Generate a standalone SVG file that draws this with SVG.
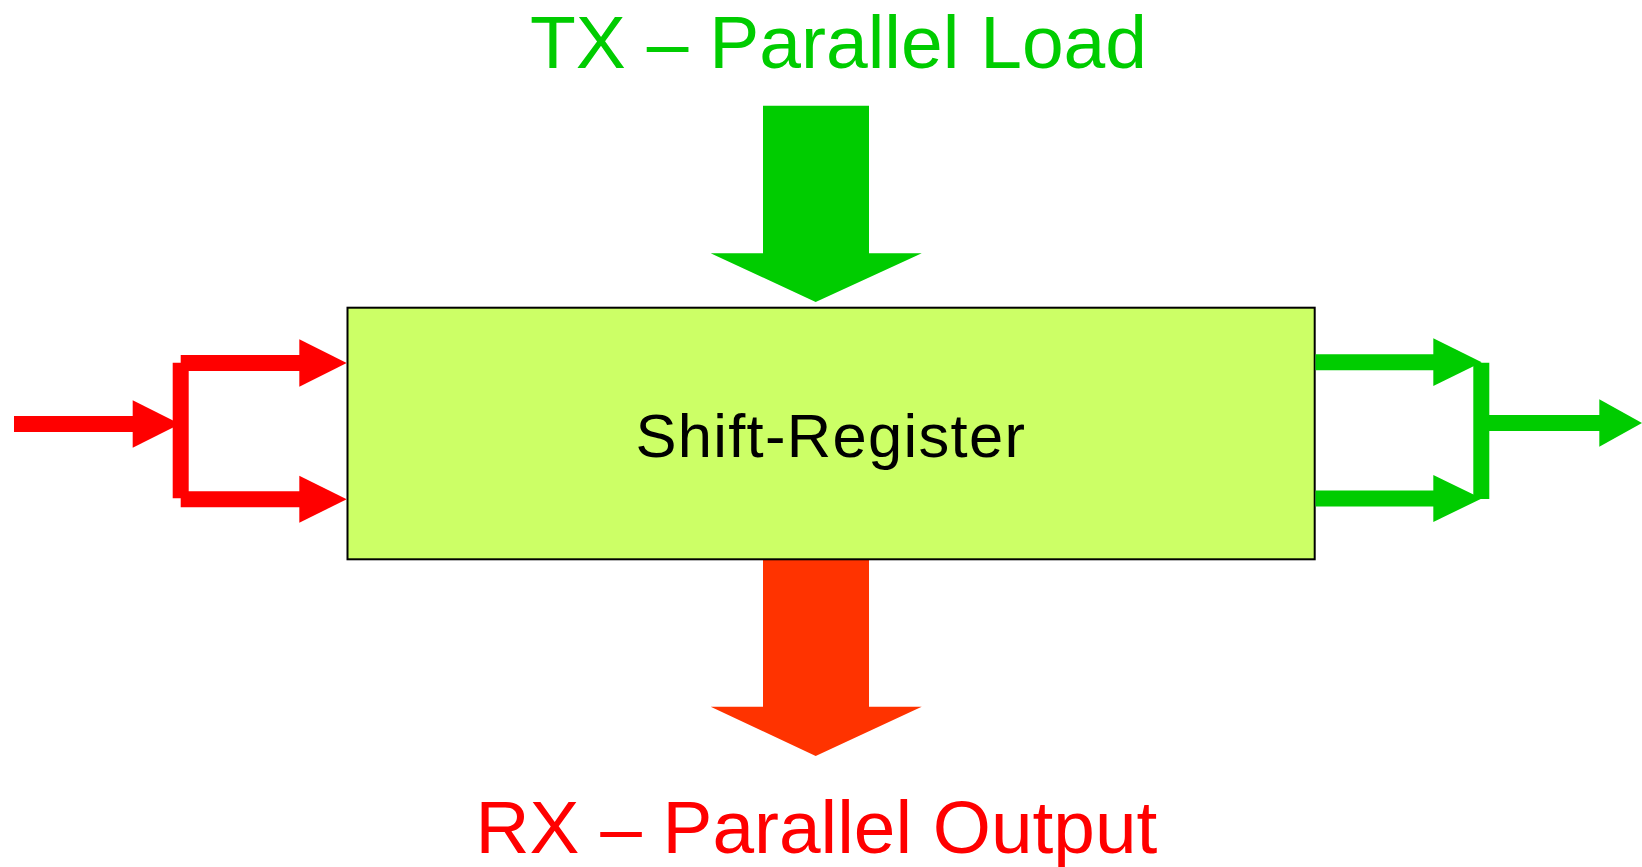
<svg xmlns="http://www.w3.org/2000/svg" width="1642" height="867" viewBox="0 0 1642 867">
  <style>
    .label { font-family: "Liberation Sans", Arial, sans-serif; }
    .red-line { stroke: #FF0000; stroke-width: 16; fill: none; stroke-linecap: butt; }
    .red-head { fill: #FF0000; }
    .green-line { stroke: #00CC00; stroke-width: 16; fill: none; stroke-linecap: butt; }
    .green-head { fill: #00CC00; }
  </style>
  <rect width="1642" height="867" fill="#FFFFFF"/>

  <!-- title labels -->
  <g id="tx-label">
    <text class="label" x="530" y="67.5" font-size="75" fill="#00CC00">TX – Parallel Load</text>
  </g>
  <g id="rx-label">
    <text class="label" x="475.5" y="853.3" font-size="74.8" fill="#FF0000">RX – Parallel Output</text>
  </g>

  <!-- wide parallel load / output arrows -->
  <g id="parallel-load">
    <polygon fill="#00CC00" points="763,105.7 869,105.7 869,253.3 921.7,253.3 815.7,302 710.7,253.3 763,253.3"/>
  </g>
  <g id="parallel-output">
    <polygon fill="#FF3300" points="763,559.3 869,559.3 869,706.7 921.7,706.7 815.7,756 710.7,706.7 763,706.7"/>
  </g>

  <!-- register block -->
  <g id="shift-register">
    <rect x="347.5" y="307.7" width="967.2" height="251.6" fill="#CCFF66" stroke="#000000" stroke-width="2"/>
    <text class="label" x="830.8" y="456.6" font-size="61.5" letter-spacing="1.3" text-anchor="middle" fill="#000000">Shift-Register</text>
  </g>

  <!-- serial connectors -->
  <g id="connectors">
    <!-- serial input, split into two lanes -->
    <line class="red-line" x1="14" y1="424" x2="133.5" y2="424"/>
    <polygon class="red-head" points="132.7,400.3 180,424 132.7,447.7"/>
    <line class="red-line" x1="180.7" y1="362.7" x2="180.7" y2="498.3"/>
    <line class="red-line" x1="180.7" y1="363" x2="300" y2="363"/>
    <polygon class="red-head" points="299.3,339.3 346.7,363 299.3,386.7"/>
    <line class="red-line" x1="180.7" y1="499.2" x2="300" y2="499.2"/>
    <polygon class="red-head" points="299.3,475.7 346.7,499.3 299.3,522.7"/>

    <!-- serial output, two lanes merged -->
    <line class="green-line" x1="1315.5" y1="362.2" x2="1434" y2="362.2"/>
    <polygon class="green-head" points="1433.3,338.3 1481.7,362.3 1433.3,386"/>
    <line class="green-line" x1="1481.3" y1="362.7" x2="1481.3" y2="499"/>
    <line class="green-line" x1="1315.5" y1="498.4" x2="1434" y2="498.4"/>
    <polygon class="green-head" points="1433.3,475 1481.7,498.5 1433.3,522"/>
    <line class="green-line" x1="1481.3" y1="423" x2="1600" y2="423"/>
    <polygon class="green-head" points="1599.3,399.3 1642,423 1599.3,446.7"/>
  </g>
</svg>
